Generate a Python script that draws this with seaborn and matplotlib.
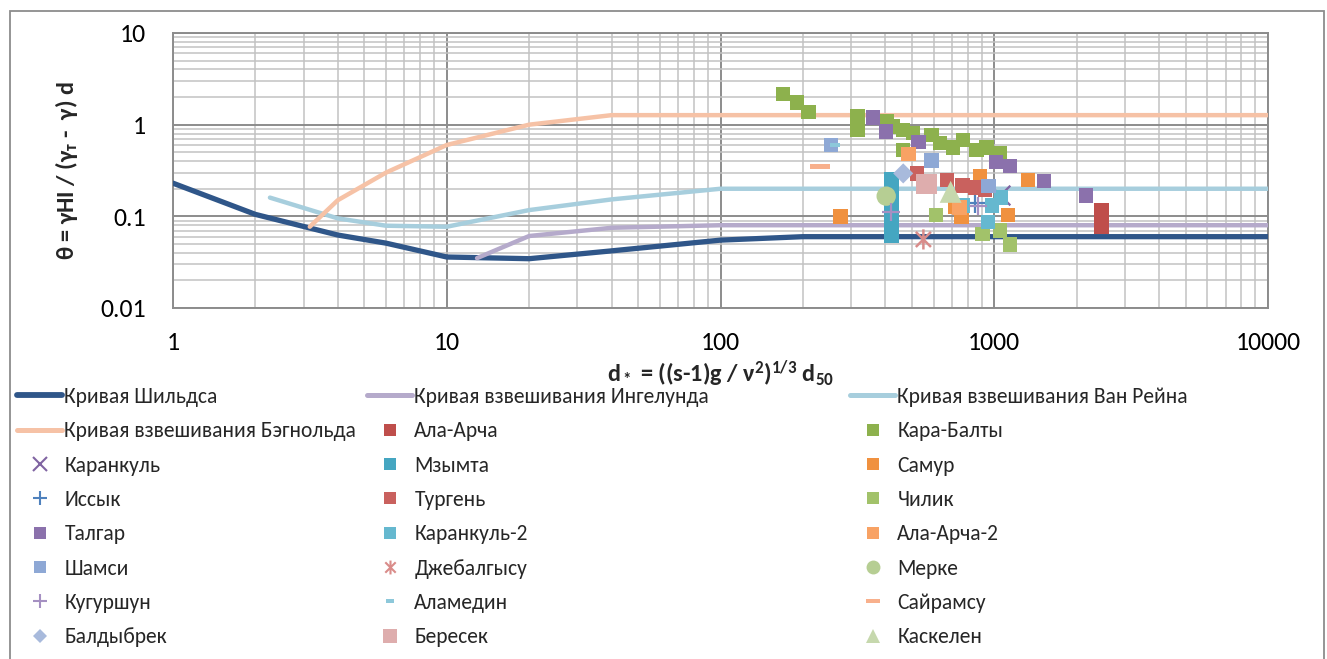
import numpy as np
import pandas as pd
import matplotlib
matplotlib.use("Agg")
import matplotlib.pyplot as plt
from matplotlib.lines import Line2D
from matplotlib.patches import Rectangle
from matplotlib.path import Path
from matplotlib.ticker import LogLocator, NullFormatter
from matplotlib.font_manager import FontProperties
import seaborn as sns

# ---------------- data ----------------
# reference curves
shields_x = [1, 2, 4, 6, 10, 20, 40, 100, 200, 10000]
shields_y = [0.23, 0.105, 0.0625, 0.051, 0.036, 0.0345, 0.042, 0.055, 0.06, 0.06]
engelund_x = [12.9, 20, 40, 100, 10000]
engelund_y = [0.035, 0.061, 0.075, 0.08, 0.08]
vanrijn_x = [2.26, 4, 6, 10, 20, 40, 100, 10000]
vanrijn_y = [0.16, 0.095, 0.079, 0.077, 0.117, 0.153, 0.2, 0.2]
bagnold_x = [3.16, 4, 6, 10, 20, 40, 10000]
bagnold_y = [0.077, 0.15, 0.30, 0.6, 1.0, 1.27, 1.27]

# river data
ala_archa_x = [2460, 2460, 2460, 2460]
ala_archa_y = [0.117, 0.100, 0.088, 0.078]
kara_balty_x = [169, 190, 210, 316, 316, 405, 426, 464, 505, 464, 591, 634, 707, 769, 863, 938, 1050]
kara_balty_y = [2.16, 1.74, 1.37, 1.22, 0.87, 1.08, 0.95, 0.87, 0.81, 0.53, 0.77, 0.63, 0.56, 0.68, 0.53, 0.56, 0.49]
karankul_x = [1050]
karankul_y = [0.17]
mzymta_x = [420, 420, 420, 420, 420, 420, 420, 420, 420]
mzymta_y = [0.255, 0.22, 0.18, 0.15, 0.125, 0.10, 0.085, 0.072, 0.062]
samur_x = [275, 887, 1328, 760, 1122, 719]
samur_y = [0.100, 0.275, 0.249, 0.099, 0.103, 0.127]
issyk_x = [851]
issyk_y = [0.14]
turgen_x = [522, 672, 763, 851, 925]
turgen_y = [0.296, 0.249, 0.216, 0.206, 0.197]
chilik_x = [613, 908, 1050, 1142]
chilik_y = [0.103, 0.064, 0.070, 0.0496]
talgar_x = [360, 403, 528, 1015, 1142, 1522, 2162]
talgar_y = [1.2, 0.84, 0.65, 0.39, 0.354, 0.244, 0.168]
karankul2_x = [770, 980, 950, 1060]
karankul2_y = [0.132, 0.132, 0.087, 0.16]
ala_archa2_x = [485, 745]
ala_archa2_y = [0.479, 0.125]
shamsi_x = [253, 591, 951]
shamsi_y = [0.60, 0.405, 0.214]
dzhebalgysu_x = [551]
dzhebalgysu_y = [0.056]
merke_x = [403]
merke_y = [0.166]
kugurshun_x = [421, 873]
kugurshun_y = [0.112, 0.131]
alamedin_x = [262]
alamedin_y = [0.60]
sairamsu_x = [231]
sairamsu_y = [0.347]
baldybrek_x = [465]
baldybrek_y = [0.294]
beresek_x = [567]
beresek_y = [0.225]
kaskelen_x = [693]
kaskelen_y = [0.185]

x_ticks = [1, 10, 100, 1000, 10000]
x_ticklabels = ["1", "10", "100", "1000", "10000"]
y_ticks = [0.01, 0.1, 1, 10]
y_ticklabels = ["0.01", "0.1", "1", "10"]

# ---------------- style ----------------
sns.set_style("white")
plt.rcParams["font.family"] = ["Carlito", "Roboto", "DejaVu Sans"]
plt.rcParams["mathtext.fontset"] = "custom"
plt.rcParams["mathtext.rm"] = "Carlito"
plt.rcParams["mathtext.it"] = "Carlito:italic"
plt.rcParams["mathtext.bf"] = "Carlito:bold"
plt.rcParams["mathtext.default"] = "bf"

LEG_FONT = FontProperties(family=["Carlito", "Liberation Sans Narrow", "Roboto", "DejaVu Sans"], size=15.5)

W, H = 1327, 659
fig = plt.figure(figsize=(W / 100, H / 100), dpi=100)
ax = fig.add_axes([173 / W, 1 - 308 / H, 1095 / W, 275 / H])

GRID_MAJ = "#8C8C8C"
GRID_MIN = "#C2C2C2"

# curves
curves = [
    ("Кривая Шильдса", shields_x, shields_y, "#2F5689", 3.8),
    ("Кривая взвешивания Ингелунда", engelund_x, engelund_y, "#B5AACB", 3.2),
    ("Кривая взвешивания Ван Рейна", vanrijn_x, vanrijn_y, "#A7CEDD", 3.2),
    ("Кривая взвешивания Бэгнольда", bagnold_x, bagnold_y, "#F6C2A6", 3.2),
]
for name, xs, ys, c, lw in curves:
    sns.lineplot(x=xs, y=ys, ax=ax, color=c, linewidth=lw, sort=False,
                 estimator=None, solid_capstyle="round", zorder=3)

dash_short = Path([(-1, -0.45), (1, -0.45), (1, 0.45), (-1, 0.45), (-1, -0.45)])
dash_long = Path([(-1, -0.25), (1, -0.25), (1, 0.25), (-1, 0.25), (-1, -0.25)])
ast_path = Path([(0, -1), (0, 1), (-0.75, -0.75), (0.75, 0.75), (-0.75, 0.75), (0.75, -0.75)],
                [Path.MOVETO, Path.LINETO, Path.MOVETO, Path.LINETO, Path.MOVETO, Path.LINETO])

# (label, x, y, color, marker, plot size s, legend markersize)
series = [
    ("Ала-Арча", ala_archa_x, ala_archa_y, "#BF4E4B", "s", 110, 8.5),
    ("Кара-Балты", kara_balty_x, kara_balty_y, "#8DB14D", "s", 110, 8.5),
    ("Каранкуль", karankul_x, karankul_y, "#8064A2", "x", 200, 10),
    ("Мзымта", mzymta_x, mzymta_y, "#45A6C1", "s", 115, 8.5),
    ("Самур", samur_x, samur_y, "#F0913F", "s", 110, 8.5),
    ("Иссык", issyk_x, issyk_y, "#4F81BD", "+", 200, 10),
    ("Тургень", turgen_x, turgen_y, "#C9615E", "s", 115, 8.5),
    ("Чилик", chilik_x, chilik_y, "#A2C26A", "s", 110, 8.5),
    ("Талгар", talgar_x, talgar_y, "#8B71AC", "s", 110, 8.5),
    ("Каранкуль-2", karankul2_x, karankul2_y, "#65B8CF", "s", 110, 8.5),
    ("Ала-Арча-2", ala_archa2_x, ala_archa2_y, "#F8A264", "s", 110, 8.5),
    ("Шамси", shamsi_x, shamsi_y, "#8EA8D5", "s", 110, 8.5),
    ("Джебалгысу", dzhebalgysu_x, dzhebalgysu_y, "#D98C8A", ast_path, 210, 10),
    ("Мерке", merke_x, merke_y, "#B6CE93", "o", 195, 10),
    ("Кугуршун", kugurshun_x, kugurshun_y, "#A590C2", "+", 170, 10),
    ("Аламедин", alamedin_x, alamedin_y, "#8DC8DA", dash_short, 60, 6),
    ("Сайрамсу", sairamsu_x, sairamsu_y, "#F8B08C", dash_long, 210, 10),
    ("Балдыбрек", baldybrek_x, baldybrek_y, "#A8BADC", "D", 105, 7),
    ("Бересек", beresek_x, beresek_y, "#DEADAD", "s", 222, 10),
    ("Каскелен", kaskelen_x, kaskelen_y, "#C6D8AD", "^", 250, 10),
]

for i, (name, xs, ys, c, m, s, lms) in enumerate(series):
    z = 4 + i * 0.01
    if isinstance(m, str) and m in ("x", "+"):
        sns.scatterplot(x=xs, y=ys, ax=ax, color=c, marker=m, s=s, linewidth=1.6, zorder=z)
    elif m is ast_path:
        sns.scatterplot(x=xs, y=ys, ax=ax, color=c, marker=m, s=s, linewidth=1.8,
                        facecolor="none", edgecolor=c, zorder=z)
    else:
        sns.scatterplot(x=xs, y=ys, ax=ax, color=c, marker=m, s=s, linewidth=0,
                        edgecolor="none", zorder=z)

# ---------------- axes ----------------
ax.set_xscale("log")
ax.set_yscale("log")
ax.set_xlim(1, 10000)
ax.set_ylim(0.01, 10)
ax.set_xticks(x_ticks)
ax.set_xticklabels(x_ticklabels)
ax.set_yticks(y_ticks)
ax.set_yticklabels(y_ticklabels)
ax.xaxis.set_minor_locator(LogLocator(base=10, subs=np.arange(2, 10), numticks=50))
ax.yaxis.set_minor_locator(LogLocator(base=10, subs=np.arange(2, 10), numticks=50))
ax.xaxis.set_minor_formatter(NullFormatter())
ax.yaxis.set_minor_formatter(NullFormatter())
ax.grid(which="minor", color=GRID_MIN, linewidth=1.1, zorder=0)
ax.grid(which="major", color=GRID_MAJ, linewidth=1.4, zorder=0)
ax.set_axisbelow(True)
for sp in ax.spines.values():
    sp.set_color(GRID_MAJ)
    sp.set_linewidth(1.4)
ax.tick_params(which="major", direction="out", length=5.6, width=1.3, color=GRID_MAJ,
               labelsize=18.5, labelcolor="black")
ax.tick_params(axis="x", which="major", pad=11)
ax.tick_params(axis="y", which="major", pad=14)
ax.tick_params(which="minor", length=0)

ax.set_xlabel("d$_*$ = ((s-1)g / ν$^2$)$^{1/3}$ d$_{50}$", fontsize=17.5, fontweight="bold", va="baseline")
ax.xaxis.set_label_coords(0.5, (308 - 382) / 275)
ax.set_ylabel("θ = γHI / (γ$_т$ -  γ) d", fontsize=17.5, fontweight="bold", va="center")
ax.yaxis.set_label_coords((67 - 173) / 1095, 0.5)

# ---------------- legend ----------------
handles = []
labels = []
for name, xs, ys, c, lw in curves:
    handles.append(Line2D([0], [0], color=c, linewidth=lw + 0.4, solid_capstyle="round"))
    labels.append(name)
for name, xs, ys, c, m, s, lms in series:
    if isinstance(m, str) and m in ("x", "+"):
        h = Line2D([0], [0], linestyle="none", marker=m, markersize=lms, color=c, markeredgewidth=1.5)
    elif m is ast_path:
        h = Line2D([0], [0], linestyle="none", marker=m, markersize=lms, markerfacecolor="none",
                   markeredgecolor=c, markeredgewidth=1.5)
    else:
        h = Line2D([0], [0], linestyle="none", marker=m, markersize=lms, color=c, markeredgewidth=0)
    handles.append(h)
    labels.append(name)

col_x = [17, 367, 850]
for col in range(3):
    hs = handles[col::3]
    ls = labels[col::3]
    fig.legend(hs, ls, loc="upper left", bbox_to_anchor=(col_x[col] / W, 1 - 387 / H),
               frameon=False, borderpad=0, borderaxespad=0, prop=LEG_FONT,
               handlelength=2.1, handletextpad=0.1, labelspacing=0.665)

# outer chart border
fig.add_artist(Rectangle((10 / W, -0.02), (1324 - 10) / W, (1 - 11 / H) + 0.02,
                         transform=fig.transFigure, fill=False, edgecolor=GRID_MAJ, linewidth=1.3))

fig.savefig("out.png", dpi=100)
